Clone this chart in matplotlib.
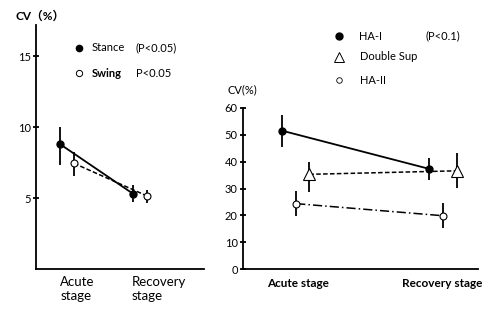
import matplotlib
matplotlib.use("Agg")
from matplotlib import pyplot as plt

plt.rcParams['font.family'] = ['Lato', 'Noto Sans CJK JP', 'DejaVu Sans']

# %% Left panel data: CV of stance / swing phase
stages_left = ['Acute\nstage', 'Recovery\nstage']
stance_cv = [8.8, 5.3]
stance_err_lo = [1.5, 0.6]
stance_err_hi = [1.2, 0.6]
swing_cv = [7.45, 5.15]
swing_err_lo = [0.9, 0.5]
swing_err_hi = [0.8, 0.4]

# %% Right panel data: HA-I, double support, HA-II
stages_right = ['Acute stage', 'Recovery stage']
ha1_cv = [51.5, 37.3]
ha1_err = [6.0, 4.0]
dsup_cv = [35.3, 36.6]
dsup_err_lo = [6.5, 6.2]
dsup_err_hi = [4.7, 6.5]
ha2_cv = [24.4, 19.9]
ha2_err = [4.7, 4.6]

fig = plt.figure(figsize=(5, 3.21), dpi=100)

def style_axes(ax):
    for s in ['top', 'right']:
        ax.spines[s].set_visible(False)
    for s in ['left', 'bottom']:
        ax.spines[s].set_linewidth(1.3)
    ax.tick_params(axis='y', direction='inout', length=5, width=1.3, labelsize=8, pad=1)
    ax.tick_params(axis='x', length=0, labelsize=8.5, pad=6)

# %% Left panel
ax1 = fig.add_axes([0.072, 0.162, 0.336, 0.760])
style_axes(ax1)
x_st = [0, 1]
x_sw = [0.19, 1.19]
ax1.plot(x_st, stance_cv, color='black', lw=1.3, zorder=2)
ax1.plot(x_sw, swing_cv, color='black', lw=1.1, ls=(0, (3, 1.5)), zorder=2)
ax1.errorbar(x_st, stance_cv, yerr=[stance_err_lo, stance_err_hi], fmt='o', ms=5,
             color='black', mfc='black', ecolor='black', elinewidth=1.3, capsize=0, zorder=3)
ax1.errorbar(x_sw, swing_cv, yerr=[swing_err_lo, swing_err_hi], fmt='o', ms=5,
             color='black', mfc='white', mew=0.8, ecolor='black', elinewidth=1.3, capsize=0, zorder=3)
ax1.set_xlim(-0.33, 1.97)
ax1.set_ylim(0, 17.2)
ax1.set_yticks([5, 10, 15])
ax1.set_xticks([0.0, 0.98])
ax1.set_xticklabels(stages_left, linespacing=1.25, ha='left', fontsize=9.5)
ax1.tick_params(axis='x', pad=5)

ax1.plot([0.256], [0.907], 'o', ms=4.5, color='black', transform=ax1.transAxes, clip_on=False)
ax1.plot([0.256], [0.803], 'o', ms=4.5, color='black', mfc='white', mew=0.7,
         transform=ax1.transAxes, clip_on=False)
ax1.text(0.333, 0.907, 'Stance', fontsize=8, va='center', transform=ax1.transAxes)
ax1.text(0.595, 0.907, '(P<0.05)', fontsize=8, va='center', transform=ax1.transAxes)
ax1.text(0.333, 0.803, 'Swing', fontsize=8, fontweight='bold', va='center', transform=ax1.transAxes)
ax1.text(0.595, 0.803, 'P<0.05', fontsize=8, va='center', transform=ax1.transAxes)
fig.text(0.03, 0.95, 'CV（%）', fontsize=8.5, fontweight='bold', va='center')

# %% Right panel
ax2 = fig.add_axes([0.485, 0.161, 0.471, 0.503])
style_axes(ax2)
x_h1 = [0, 1]
x_h2 = [0.095, 1.095]
x_ds = [0.184, 1.184]
ax2.plot(x_h1, ha1_cv, color='black', lw=1.3, zorder=2)
ax2.plot(x_ds, dsup_cv, color='black', lw=1.1, ls=(0, (3, 1.5)), zorder=2)
ax2.plot(x_h2, ha2_cv, color='black', lw=1.1, ls=(0, (6, 2, 1, 2)), zorder=2)
ax2.errorbar(x_h1, ha1_cv, yerr=ha1_err, fmt='o', ms=5, color='black',
             elinewidth=1.3, capsize=0, zorder=3)
ax2.errorbar(x_ds, dsup_cv, yerr=[dsup_err_lo, dsup_err_hi], fmt='^', ms=8, color='black',
             mfc='white', mew=0.8, elinewidth=1.3, capsize=0, zorder=3)
ax2.errorbar(x_h2, ha2_cv, yerr=ha2_err, fmt='o', ms=5, color='black',
             mfc='white', mew=0.8, elinewidth=1.3, capsize=0, zorder=3)
ax2.set_xlim(-0.27, 1.33)
ax2.set_ylim(0, 60)
ax2.set_yticks(range(0, 61, 10))
ax2.set_xticks([0.105, 1.084])
ax2.set_xticklabels(stages_right, fontweight='bold')

ax2.plot([0.409], [1.444], 'o', ms=5, color='black', transform=ax2.transAxes, clip_on=False)
ax2.plot([0.409], [1.316], '^', ms=7, color='black', mfc='white', mew=0.7,
         transform=ax2.transAxes, clip_on=False)
ax2.plot([0.409], [1.171], 'o', ms=4, color='black', mfc='white', mew=0.6,
         transform=ax2.transAxes, clip_on=False)
ax2.text(0.496, 1.444, 'HA-I', fontsize=8, va='center', transform=ax2.transAxes)
ax2.text(0.779, 1.444, '(P<0.1)', fontsize=8, va='center', transform=ax2.transAxes)
ax2.text(0.500, 1.316, 'Double Sup', fontsize=8, va='center', transform=ax2.transAxes)
ax2.text(0.500, 1.171, 'HA-II', fontsize=8, va='center', transform=ax2.transAxes)
fig.text(0.454, 0.72, 'CV(%)', fontsize=8, va='center')

fig.savefig('out.png', dpi=100)
